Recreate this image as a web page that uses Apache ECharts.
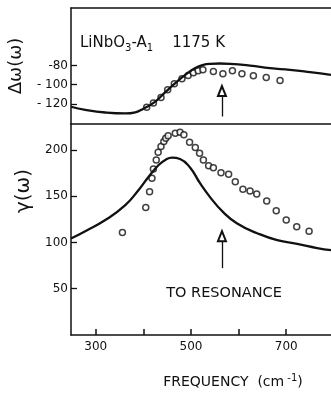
<!DOCTYPE html>
<html>
<head>
<meta charset="utf-8">
<script src="https://cdn.jsdelivr.net/npm/echarts@6/dist/echarts.min.js"></script>
<style>
  html, body { margin: 0; padding: 0; background: #fff; }
  #chart { width: 331px; height: 393px; }
</style>
</head>
<body>
<div id="chart"></div>
<script>
// frequency axis (cm-1)
const freqMin = 248;
const freqMax = 794;
const freqTicks = [300, 400, 500, 600, 700];
const freqLabels = [300, 500, 700];
const resonanceFreq = 565;

// top panel: frequency shift
const shiftTicks = [-120, -100, -80];
const shiftFit = [
  [248, -123], [278, -126.2], [320, -129], [362, -130], [383, -128.8],
  [400, -125], [425, -117.6], [446, -107.8], [467, -98.4], [488, -89.7],
  [509, -82.7], [526, -79.3], [540, -78.2], [560, -77.9], [582, -78.2],
  [624, -80], [666, -82.7], [708, -84.5], [750, -86.9], [794, -89.7]
];
const shiftMeasured = [
  [407, -123.4], [421, -119.2], [437, -113.4], [451, -105.4], [465, -99.1],
  [481, -93.9], [494, -90.4], [505, -87.6], [515, -85.5], [525, -84.5],
  [547, -86.3], [567, -88.7], [587, -85.5], [607, -88.7], [631, -90.8],
  [658, -92.5], [687, -95.7]
];
const shiftArrow = [-133.2, -106.6];

// bottom panel: damping
const widthTicks = [50, 100, 150, 200];
const widthFit = [
  [248, 104.3], [278, 112.2], [320, 124.2], [362, 140.4], [390, 156.7],
  [411, 171], [432, 183.7], [446, 189.2], [460, 191.7], [477, 190.2],
  [498, 181], [519, 164], [540, 149], [567, 133], [597, 120.5],
  [639, 110], [681, 102.5], [723, 98.5], [765, 94], [794, 91.7]
];
const widthMeasured = [
  [356, 110.8], [405, 137.9], [413, 154.8], [418, 169.3], [421, 179.4],
  [427, 189.2], [431, 197.5], [437, 203.6], [443, 209], [447, 212.7],
  [452, 215.2], [467, 218.1], [477, 219.1], [485, 216.3], [497, 208.3],
  [509, 202.5], [518, 196.4], [526, 189.2], [537, 183], [547, 180.8],
  [563, 175.4], [579, 173.7], [593, 165.7], [609, 157.5], [624, 155.6],
  [638, 152.3], [659, 144.7], [679, 134.2], [700, 124.2], [722, 116.9],
  [748, 112.2]
];
const widthArrow = [72.2, 106.8];

const ink = '#111';
const font = 'DejaVu Sans';

const chart = echarts.init(document.getElementById('chart'), null, { renderer: 'canvas' });

const axisLine = { show: true, lineStyle: { color: ink, width: 1.5 } };
const tickLabel = { color: ink, fontFamily: font, fontSize: 12 };
const circle = { color: '#fff', borderColor: ink, borderWidth: 1.5 };

const arrow = (vals) => ({
  silent: true,
  animation: false,
  symbol: ['none', 'emptyTriangle'],
  symbolSize: [8, 10],
  label: { show: false },
  lineStyle: { color: ink, width: 1.3, type: 'solid' },
  data: [[{ coord: [resonanceFreq, vals[0]] }, { coord: [resonanceFreq, vals[1]] }]]
});

const option = {
  backgroundColor: '#fff',
  animation: false,
  grid: [
    { left: 71, right: 0, top: 8, height: 116 },
    { left: 71, right: 0, top: 124, height: 211 }
  ],
  xAxis: [
    {
      type: 'value', gridIndex: 0, position: 'top', min: freqMin, max: freqMax,
      axisLine, axisTick: { show: false }, axisLabel: { show: false }, splitLine: { show: false }
    },
    {
      type: 'value', gridIndex: 1, position: 'bottom', min: freqMin, max: freqMax,
      axisLine,
      axisTick: { inside: true, length: 6, customValues: freqTicks, lineStyle: { color: ink, width: 1.5 } },
      axisLabel: { ...tickLabel, customValues: freqLabels, margin: 6 },
      splitLine: { show: false }
    },
    {
      type: 'value', gridIndex: 1, position: 'top', min: freqMin, max: freqMax,
      axisLine, axisTick: { show: false }, axisLabel: { show: false }, splitLine: { show: false }
    }
  ],
  yAxis: [
    {
      type: 'value', gridIndex: 0, min: -141, max: -20,
      axisLine,
      axisTick: { inside: true, length: 6, customValues: shiftTicks, lineStyle: { color: ink, width: 1.3 } },
      axisLabel: {
        ...tickLabel, customValues: shiftTicks, margin: 3,
        formatter: v => (v === -80 ? '-80' : '- ' + Math.abs(v))
      },
      splitLine: { show: false }
    },
    {
      type: 'value', gridIndex: 1, min: 0, max: 228,
      axisLine,
      axisTick: { inside: true, length: 6, customValues: widthTicks, lineStyle: { color: ink, width: 1.3 } },
      axisLabel: { ...tickLabel, customValues: widthTicks, margin: 3 },
      splitLine: { show: false }
    }
  ],
  graphic: [
    {
      type: 'text', x: 80, y: 43,
      style: {
        text: '{n|LiNbO}{s|3}{n|-A}{s|1}{n|    1175 K}',
        verticalAlign: 'middle', fill: ink,
        rich: {
          n: { fontFamily: font, fontSize: 15, lineHeight: 20, verticalAlign: 'middle', color: ink },
          s: { fontFamily: font, fontSize: 10, lineHeight: 11, verticalAlign: 'bottom', color: ink }
        }
      }
    },
    {
      type: 'text', x: 224, y: 293,
      style: { text: 'TO RESONANCE', align: 'center', verticalAlign: 'middle', fill: ink, fontFamily: font, fontSize: 14.5 }
    },
    {
      type: 'text', x: 233, y: 382,
      style: {
        text: '{n|FREQUENCY  (cm}{s| -1}{n|)}',
        align: 'center', verticalAlign: 'middle', fill: ink,
        rich: {
          n: { fontFamily: font, fontSize: 14, lineHeight: 18, verticalAlign: 'middle', color: ink },
          s: { fontFamily: font, fontSize: 10, lineHeight: 11, verticalAlign: 'top', color: ink }
        }
      }
    },
    {
      type: 'text', x: 16, y: 66, rotation: Math.PI / 2,
      style: { text: 'Δω(ω)', align: 'center', verticalAlign: 'middle', fill: ink, fontFamily: font, fontSize: 18 }
    },
    {
      type: 'text', x: 24, y: 191, rotation: Math.PI / 2,
      style: { text: 'γ(ω)', align: 'center', verticalAlign: 'middle', fill: ink, fontFamily: font, fontSize: 20 }
    }
  ],
  series: [
    {
      type: 'line', xAxisIndex: 0, yAxisIndex: 0, data: shiftFit, smooth: 0.5,
      showSymbol: false, lineStyle: { color: ink, width: 2.3 }, silent: true
    },
    {
      type: 'scatter', xAxisIndex: 0, yAxisIndex: 0, data: shiftMeasured,
      symbol: 'circle', symbolSize: 6, itemStyle: circle,
      markLine: arrow(shiftArrow), silent: true
    },
    {
      type: 'line', xAxisIndex: 1, yAxisIndex: 1, data: widthFit, smooth: 0.5,
      showSymbol: false, lineStyle: { color: ink, width: 2.3 }, silent: true
    },
    {
      type: 'scatter', xAxisIndex: 1, yAxisIndex: 1, data: widthMeasured,
      symbol: 'circle', symbolSize: 6, itemStyle: circle,
      markLine: arrow(widthArrow), silent: true
    }
  ]
};

chart.setOption(option);
window.addEventListener('resize', () => chart.resize());
</script>
</body>
</html>
